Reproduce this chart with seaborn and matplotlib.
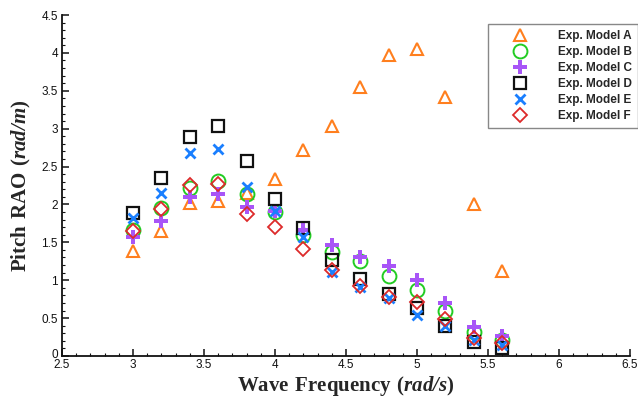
import matplotlib
matplotlib.use("Agg")
import matplotlib.pyplot as plt
import matplotlib.transforms as mtransforms
import seaborn as sns
import numpy as np
import pandas as pd
from matplotlib.ticker import MultipleLocator

# ---- data ----
freq = [3.0, 3.2, 3.4, 3.6, 3.8, 4.0, 4.2, 4.4, 4.6, 4.8, 5.0, 5.2, 5.4, 5.6]
model_a = [1.38, 1.65, 2.02, 2.04, 2.15, 2.33, 2.72, 3.03, 3.55, 3.97, 4.05, 3.42, 2.01, 1.12]
model_b = [1.66, 1.95, 2.22, 2.31, 2.14, 1.90, 1.60, 1.37, 1.25, 1.06, 0.87, 0.59, 0.32, 0.21]
model_c = [1.57, 1.78, 2.10, 2.14, 1.97, 1.92, 1.66, 1.46, 1.30, 1.19, 1.00, 0.70, 0.38, 0.27]
model_d = [1.89, 2.35, 2.89, 3.04, 2.57, 2.07, 1.69, 1.27, 1.01, 0.82, 0.63, 0.40, 0.19, 0.11]
model_e = [1.82, 2.15, 2.68, 2.73, 2.23, 1.91, 1.57, 1.11, 0.91, 0.77, 0.54, 0.39, 0.21, 0.14]
model_f = [1.65, 1.94, 2.26, 2.27, 1.88, 1.70, 1.41, 1.13, 0.92, 0.78, 0.71, 0.49, 0.24, 0.17]
labels = ["Exp. Model A", "Exp. Model B", "Exp. Model C",
          "Exp. Model D", "Exp. Model E", "Exp. Model F"]
series = [model_a, model_b, model_c, model_d, model_e, model_f]
xtick_vals = [2.5, 3.0, 3.5, 4.0, 4.5, 5.0, 5.5, 6.0, 6.5]
xtick_labels = ["2.5", "3", "3.5", "4", "4.5", "5", "5.5", "6", "6.5"]
ytick_vals = [0, 0.5, 1.0, 1.5, 2.0, 2.5, 3.0, 3.5, 4.0, 4.5]
ytick_labels = ["0", "0.5", "1", "1.5", "2", "2.5", "3", "3.5", "4", "4.5"]

# ---- styles ----
colors = ["#ff7f1e", "#22cc22", "#a855f7", "#111111", "#1a7fff", "#dd2a2a"]
markers = ["^", "o", "P", "s", "x", "D"]
msizes = [9, 10, 10, 8.5, 7.5, 7.5]
mews = [1.5, 1.4, 0, 1.6, 2.0, 1.3]

sns.set_style("ticks")
plt.rcParams["font.family"] = ["Liberation Sans", "DejaVu Sans"]
plt.rcParams["mathtext.fontset"] = "custom"
plt.rcParams["mathtext.bfit"] = "Liberation Serif:italic:bold"
plt.rcParams["mathtext.bf"] = "Liberation Serif:bold"

fig = plt.figure(figsize=(6.38, 3.98), dpi=100)
ax = fig.add_axes([62 / 638, 1 - 356 / 398, 568 / 638, 341 / 398])

for vals, lab, col, mk, ms, mew in zip(series, labels, colors, markers, msizes, mews):
    df = pd.DataFrame({"freq": freq, "rao": vals})
    if mk == "P":
        sns.lineplot(data=df, x="freq", y="rao", ax=ax, linestyle="none",
                     marker="P", markersize=ms, color=col, markerfacecolor=col,
                     markeredgecolor=col, markeredgewidth=0, label=lab)
    else:
        sns.lineplot(data=df, x="freq", y="rao", ax=ax, linestyle="none",
                     marker=mk, markersize=ms, color=col, markerfacecolor="none",
                     markeredgecolor=col, markeredgewidth=mew, label=lab)

ax.set_xlim(2.5, 6.5)
ax.set_ylim(0, 4.5)
ax.set_xticks(xtick_vals)
ax.set_xticklabels(xtick_labels)
ax.set_yticks(ytick_vals)
ax.set_yticklabels(ytick_labels)
ax.xaxis.set_minor_locator(MultipleLocator(0.1))
ax.yaxis.set_minor_locator(MultipleLocator(0.1))
ax.tick_params(which="major", direction="in", length=5, width=1.1,
               labelsize=8.5, pad=3, colors="#111111")
ax.tick_params(axis="x", which="major", pad=2.5)
ax.tick_params(which="minor", direction="in", length=2.5, width=0.8, colors="#111111")
for s in ["top", "right"]:
    ax.spines[s].set_visible(False)
for s in ["left", "bottom"]:
    ax.spines[s].set_linewidth(1.3)
    ax.spines[s].set_color("#111111")

# raise the "0" label slightly, as in the reference
zero_lab = ax.get_yticklabels()[0]
zero_lab.set_transform(zero_lab.get_transform() +
                       mtransforms.ScaledTranslation(0, 3 / 100, fig.dpi_scale_trans))

ax.set_xlabel(r"$\mathbf{Wave\ Frequency\ (}\mathbfit{rad/s}\mathbf{)}$",
              fontsize=15, labelpad=2)
ax.set_ylabel(r"$\mathbf{Pitch\ RAO\ (}\mathbfit{rad/m}\mathbf{)}$",
              fontsize=15, labelpad=6)

leg = ax.legend(loc="upper left", bbox_to_anchor=(488 / 638, 1 - 24 / 398),
                bbox_transform=fig.transFigure, frameon=True, fancybox=False,
                edgecolor="#888888", framealpha=1, handlelength=4.4,
                handletextpad=0.95, labelspacing=0.33, borderpad=0.55,
                borderaxespad=0, prop={"weight": "bold", "size": 8.5})
leg.get_frame().set_linewidth(1.0)

fig.savefig("out.png", dpi=100)
